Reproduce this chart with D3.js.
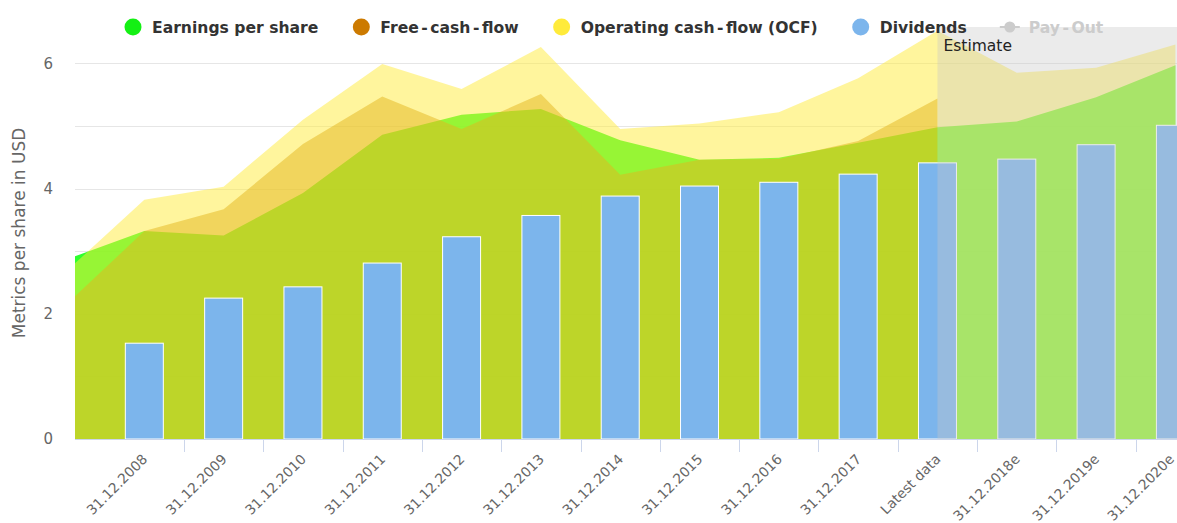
<!DOCTYPE html>
<html><head><meta charset="utf-8">
<script src="https://cdn.jsdelivr.net/npm/d3@7/dist/d3.min.js"></script>
<style>
body{margin:0;background:#fff;overflow:hidden}
svg{display:block;font-family:"DejaVu Sans",Verdana,sans-serif}
</style>
</head><body>
<svg id="chart" width="1177" height="523"></svg>
<script>
// ---- data (first entry is the prior year, only partly inside the plot) ----
const categories = ["31.12.2007","31.12.2008","31.12.2009","31.12.2010","31.12.2011","31.12.2012","31.12.2013","31.12.2014","31.12.2015","31.12.2016","31.12.2017","Latest data","31.12.2018e","31.12.2019e","31.12.2020e"];
const eps       = [2.86, 3.32, 3.25, 3.93, 4.86, 5.18, 5.27, 4.77, 4.46, 4.49, 4.73, 4.98, 5.07, 5.46, 5.97];
const fcf       = [2.13, 3.32, 3.67, 4.71, 5.47, 4.95, 5.51, 4.22, 4.46, 4.47, 4.76, 5.44, null, null, null];
const ocf       = [2.66, 3.82, 4.03, 5.10, 5.99, 5.59, 6.26, 4.95, 5.04, 5.22, 5.76, 6.52, 5.85, 5.93, 6.30];
const dividends = [null, 1.53, 2.25, 2.43, 2.81, 3.23, 3.57, 3.88, 4.04, 4.10, 4.23, 4.41, 4.47, 4.70, 5.01];
const yGridTicks  = [1, 2, 3, 4, 5, 6];
const yLabelTicks = [0, 2, 4, 6];
const estimateStart = "Latest data";
const legendItems = [
  {name:"Earnings per share", color:"#14f014", kind:"dot"},
  {name:"Free-cash-flow", color:"#cc7a00", kind:"dot"},
  {name:"Operating cash-flow (OCF)", color:"#ffeb3b", kind:"dot"},
  {name:"Dividends", color:"#7cb5ec", kind:"dot"},
  {name:"Pay-Out", color:"#cccccc", kind:"line", hidden:true}
];

// ---- layout ----
const svg = d3.select("#chart");
const plot = {left:75, right:1177, top:27, bottom:439};
const x = d3.scaleLinear().domain([0.126, 14.02]).range([plot.left, plot.right]);
const y = d3.scaleLinear().domain([0, 6.58]).range([plot.bottom, plot.top]);

svg.append("defs").append("clipPath").attr("id","clip")
  .append("rect").attr("x",plot.left).attr("y",plot.top)
  .attr("width",plot.right-plot.left).attr("height",plot.bottom-plot.top);

// grid
svg.append("g").selectAll("line").data(yGridTicks).join("line")
  .attr("x1",plot.left).attr("x2",plot.right)
  .attr("y1",d=>Math.round(y(d))+0.5).attr("y2",d=>Math.round(y(d))+0.5)
  .attr("stroke","#e6e6e6").attr("stroke-width",1);

const g = svg.append("g").attr("clip-path","url(#clip)");

const area = d3.area()
  .defined(d=>d!=null)
  .x((d,i)=>x(i))
  .y0(y(0))
  .y1(d=>y(d));

g.append("path").datum(eps).attr("d",area).attr("fill","rgb(0,255,0)").attr("fill-opacity",0.82);
g.append("path").datum(fcf).attr("d",area).attr("fill","rgb(200,128,0)").attr("fill-opacity",0.5);
g.append("path").datum(ocf).attr("d",area).attr("fill","rgb(255,235,59)").attr("fill-opacity",0.5);

// dividends columns
const barW = 38;
g.append("g").selectAll("rect").data(dividends.map((v,i)=>({v,i})).filter(d=>d.v!=null)).join("rect")
  .attr("x",d=>x(d.i)-barW/2).attr("width",barW)
  .attr("y",d=>y(d.v)).attr("height",d=>y(0)-y(d.v))
  .attr("fill","#7cb5ec").attr("stroke","#ffffff").attr("stroke-width",1);

// estimate band
const estIdx = categories.indexOf(estimateStart);
g.append("rect").attr("x",x(estIdx)).attr("y",plot.top)
  .attr("width",plot.right-x(estIdx)).attr("height",plot.bottom-plot.top)
  .attr("fill","rgb(200,200,200)").attr("fill-opacity",0.36);
svg.append("text").attr("x",x(estIdx)+6).attr("y",51)
  .attr("font-size","15.5px").attr("fill","#222").text("Estimate");

// x axis
svg.append("line").attr("x1",plot.left).attr("x2",plot.right)
  .attr("y1",plot.bottom+0.5).attr("y2",plot.bottom+0.5).attr("stroke","#ccd6eb");
const tickIdx = d3.range(1, categories.length-1);
svg.append("g").selectAll("line").data(tickIdx).join("line")
  .attr("x1",i=>Math.round(x(i+0.5))+0.5).attr("x2",i=>Math.round(x(i+0.5))+0.5)
  .attr("y1",plot.bottom).attr("y2",plot.bottom+13).attr("stroke","#ccd6eb");
svg.append("g").selectAll("text")
  .data(categories.map((c,i)=>({c,i})).filter(d=>x(d.i)>=plot.left))
  .join("text")
  .attr("transform",d=>`translate(${Math.min(x(d.i)+4, plot.right-2)},${460}) rotate(-45)`)
  .attr("text-anchor","end").attr("font-size","13.8px").attr("fill","#666")
  .text(d=>d.c);

// y axis labels
svg.append("g").selectAll("text").data(yLabelTicks).join("text")
  .attr("x",53).attr("y",d=>y(d)).attr("dy","0.36em")
  .attr("text-anchor","end").attr("font-size","15px").attr("fill","#666")
  .text(d=>d);
svg.append("text").attr("transform",`translate(25,${(128+338)/2}) rotate(-90)`)
  .attr("text-anchor","middle").attr("font-size","17px").attr("fill","#666")
  .text("Metrics per share in USD");

// legend
const lg = svg.append("g");
let cx = 133;
const ly = 27;
legendItems.forEach(it=>{
  if(it.kind==="dot"){
    lg.append("circle").attr("cx",cx).attr("cy",ly).attr("r",8.5).attr("fill",it.color);
  } else {
    lg.append("line").attr("x1",cx-10).attr("x2",cx+10).attr("y1",ly).attr("y2",ly)
      .attr("stroke",it.color).attr("stroke-width",2);
    lg.append("circle").attr("cx",cx).attr("cy",ly).attr("r",5.5).attr("fill",it.color);
  }
  const t = lg.append("text").attr("x",cx+19).attr("y",ly).attr("dy","0.36em")
    .attr("font-size","15.6px").attr("font-weight","bold")
    .attr("fill",it.hidden?"#cccccc":"#333333");
  // render hyphens slightly wider, as in the reference font
  it.name.split(/(-)/).forEach(part=>{
    const ts = t.append("tspan").text(part);
    if(part==="-") ts.attr("dx",2.5);
    else if(t.selectAll("tspan").size()>1) ts.attr("dx",2.5);
  });
  const w = t.node().getComputedTextLength() + 5*(it.name.split("-").length-1);
  cx = cx + 19 + w + 43;
});
</script>
</body></html>
